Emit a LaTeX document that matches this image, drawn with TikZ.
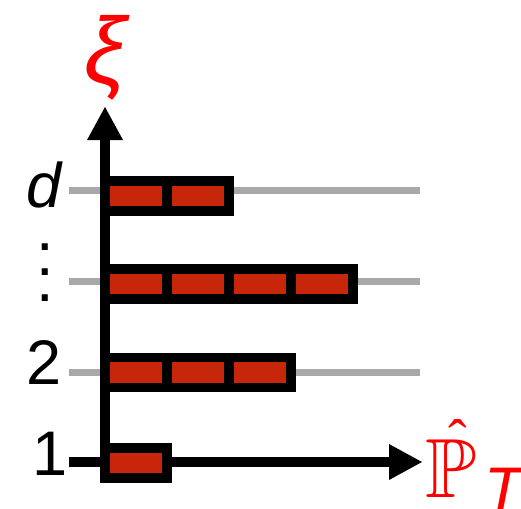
\documentclass[tikz,border=0pt]{standalone}
\usepackage{fix-cm}
\usepackage{amssymb}
\usepackage{fontspec}
\newfontfamily\labelfont{Liberation Sans}
\newfontfamily\accentfont{Liberation Serif}
\usetikzlibrary{arrows.meta}

\definecolor{cellred}{RGB}{200,38,10}
\definecolor{guidegray}{RGB}{166,169,167}
\definecolor{labelred}{RGB}{255,0,0}

\tikzset{
  cell/.style={rectangle, draw=black, fill=cellred, line width=9.5pt,
    minimum width=62pt, minimum height=30pt, inner sep=0pt},
  guide/.style={draw=guidegray, line width=7pt},
  axis/.style={draw=black, line width=10pt,
    -{Triangle[length=33pt, width=36pt, line width=0pt]}},
  ticklabel/.style={inner sep=0pt, font=\labelfont\fontsize{63}{63}\selectfont},
}

\begin{document}
\begin{tikzpicture}[x=1pt, y=-1pt]
  \useasboundingbox (0,0) rectangle (521,508);

  % horizontal guide lines of the levels d, ..., 2
  \foreach \name/\yy in {d/190, dots/281.5, two/372} {
    \coordinate (gl-\name) at (69,\yy);
    \coordinate (gr-\name) at (420,\yy);
    \draw[guide] (gl-\name) -- (gr-\name);
  }

  % axes
  \coordinate (origin) at (105,462);
  \coordinate (xstart) at (69,462);
  \coordinate (xend) at (422,462);
  \coordinate (yend) at (105,107);
  \draw[axis] (origin) -- (yend);
  \draw[axis] (xstart) -- (xend);

  % cells of each level
  \foreach \name/\yy/\n in {d/196/2, dots/284/4, two/372.5/3, one/463/1} {
    \foreach \k in {1,...,\n} {
      \node[cell] (c-\name-\k) at ({74+62*\k},\yy) {};
    }
  }

  % level labels
  \node[ticklabel, font=\labelfont\itshape\fontsize{63}{63}\selectfont] (lab-d) at (44,184.5) {d};
  \node[ticklabel, align=center, font=\labelfont\fontsize{63}{25.5}\selectfont] (lab-dots) at (45,272.5) {.\\.\\.};
  \node[ticklabel] (lab-two) at (44,363) {2};
  \node[ticklabel] (lab-one) at (50,453.5) {1};

  % axis labels
  \node[inner sep=0pt, text=labelred, font=\labelfont\itshape\fontsize{94}{94}\selectfont] (xi) at (105,58) {ξ};
  \node[inner sep=0pt, anchor=base, text=labelred, font=\fontsize{84}{84}\selectfont] (pp) at (451,497) {$\mathbb{P}$};
  \node[inner sep=0pt, anchor=base, text=labelred, font=\accentfont\fontsize{56}{56}\selectfont] (pphat) at (458,458) {ˆ};
  \node[inner sep=0pt, anchor=base west, text=labelred, font=\labelfont\itshape\fontsize{63}{63}\selectfont] (ppsub) at (484,511) {T};
\end{tikzpicture}
\end{document}
